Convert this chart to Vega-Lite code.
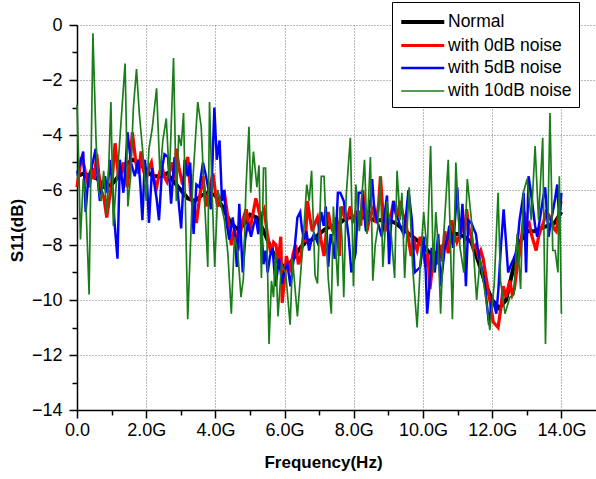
{
"$schema": "https://vega.github.io/schema/vega-lite/v6.json",
"width": 519, "height": 385,
"autosize": "none",
"padding": {"left": 77, "top": 25, "right": 0, "bottom": 69},
"config": {"view": {"stroke": null}, "font": "Liberation Sans",
 "legend": {"orient": "none", "legendX": 315, "legendY": -23, "symbolType": "M-1,0H3", "symbolSize": 462, "strokeColor": "black", "fillColor": "white", "padding": 7, "labelFontSize": 17.5, "labelColor": "black", "rowPadding": 2, "labelOffset": 23, "labelLimit": 300, "cornerRadius": 0}},
"data": {"values": [
{"s":"Normal","f":0,"v":-5.5},{"s":"Normal","f":0.2,"v":-5.4},{"s":"Normal","f":0.4,"v":-5.5},{"s":"Normal","f":0.6,"v":-5.6},{"s":"Normal","f":0.8,"v":-5.9},{"s":"Normal","f":1.0,"v":-5.8},{"s":"Normal","f":1.2,"v":-5.5},{"s":"Normal","f":1.4,"v":-5.1},{"s":"Normal","f":1.6,"v":-4.9},{"s":"Normal","f":1.8,"v":-5.0},{"s":"Normal","f":2.0,"v":-5.3},{"s":"Normal","f":2.2,"v":-5.5},{"s":"Normal","f":2.4,"v":-5.5},{"s":"Normal","f":2.6,"v":-5.4},{"s":"Normal","f":2.8,"v":-5.7},{"s":"Normal","f":3.0,"v":-6.0},{"s":"Normal","f":3.2,"v":-6.3},{"s":"Normal","f":3.4,"v":-6.4},{"s":"Normal","f":3.6,"v":-6.2},{"s":"Normal","f":3.8,"v":-6.1},{"s":"Normal","f":4.0,"v":-6.2},{"s":"Normal","f":4.2,"v":-6.6},{"s":"Normal","f":4.4,"v":-7.1},{"s":"Normal","f":4.6,"v":-7.4},{"s":"Normal","f":4.8,"v":-7.3},{"s":"Normal","f":5.0,"v":-6.9},{"s":"Normal","f":5.2,"v":-7.0},{"s":"Normal","f":5.4,"v":-7.5},{"s":"Normal","f":5.6,"v":-8.1},{"s":"Normal","f":5.8,"v":-8.6},{"s":"Normal","f":6.0,"v":-8.8},{"s":"Normal","f":6.2,"v":-8.6},{"s":"Normal","f":6.4,"v":-8.2},{"s":"Normal","f":6.6,"v":-7.9},{"s":"Normal","f":6.8,"v":-7.8},{"s":"Normal","f":7.0,"v":-7.6},{"s":"Normal","f":7.2,"v":-7.4},{"s":"Normal","f":7.4,"v":-7.3},{"s":"Normal","f":7.6,"v":-7.2},{"s":"Normal","f":7.8,"v":-7.0},{"s":"Normal","f":8.0,"v":-7.0},{"s":"Normal","f":8.2,"v":-7.0},{"s":"Normal","f":8.4,"v":-7.0},{"s":"Normal","f":8.6,"v":-7.1},{"s":"Normal","f":8.8,"v":-7.1},{"s":"Normal","f":9.0,"v":-7.1},{"s":"Normal","f":9.2,"v":-7.2},{"s":"Normal","f":9.4,"v":-7.4},{"s":"Normal","f":9.6,"v":-7.6},{"s":"Normal","f":9.8,"v":-7.8},{"s":"Normal","f":10.0,"v":-8.0},{"s":"Normal","f":10.2,"v":-8.3},{"s":"Normal","f":10.4,"v":-8.3},{"s":"Normal","f":10.6,"v":-8.0},{"s":"Normal","f":10.8,"v":-7.6},{"s":"Normal","f":11.0,"v":-7.6},{"s":"Normal","f":11.2,"v":-7.7},{"s":"Normal","f":11.4,"v":-7.9},{"s":"Normal","f":11.6,"v":-8.6},{"s":"Normal","f":11.8,"v":-9.4},{"s":"Normal","f":12.0,"v":-10.0},{"s":"Normal","f":12.2,"v":-10.3},{"s":"Normal","f":12.4,"v":-10.0},{"s":"Normal","f":12.6,"v":-8.9},{"s":"Normal","f":12.8,"v":-7.9},{"s":"Normal","f":13.0,"v":-7.5},{"s":"Normal","f":13.2,"v":-7.5},{"s":"Normal","f":13.4,"v":-7.4},{"s":"Normal","f":13.6,"v":-7.3},{"s":"Normal","f":13.8,"v":-7.2},{"s":"Normal","f":14.0,"v":-6.8},
{"s":"with 0dB noise","f":0,"v":-5.9},{"s":"with 0dB noise","f":0.07,"v":-5.3},{"s":"with 0dB noise","f":0.13,"v":-4.8},{"s":"with 0dB noise","f":0.2,"v":-5.1},{"s":"with 0dB noise","f":0.25,"v":-5.4},{"s":"with 0dB noise","f":0.35,"v":-5.9},{"s":"with 0dB noise","f":0.45,"v":-5.2},{"s":"with 0dB noise","f":0.5,"v":-5.6},{"s":"with 0dB noise","f":0.57,"v":-4.7},{"s":"with 0dB noise","f":0.63,"v":-5.4},{"s":"with 0dB noise","f":0.7,"v":-6.0},{"s":"with 0dB noise","f":0.78,"v":-6.3},{"s":"with 0dB noise","f":0.86,"v":-7.0},{"s":"with 0dB noise","f":0.95,"v":-6.2},{"s":"with 0dB noise","f":1.02,"v":-5.6},{"s":"with 0dB noise","f":1.1,"v":-4.3},{"s":"with 0dB noise","f":1.2,"v":-5.5},{"s":"with 0dB noise","f":1.27,"v":-5.4},{"s":"with 0dB noise","f":1.35,"v":-5.0},{"s":"with 0dB noise","f":1.45,"v":-5.9},{"s":"with 0dB noise","f":1.52,"v":-5.2},{"s":"with 0dB noise","f":1.6,"v":-3.9},{"s":"with 0dB noise","f":1.7,"v":-5.0},{"s":"with 0dB noise","f":1.78,"v":-5.4},{"s":"with 0dB noise","f":1.85,"v":-4.6},{"s":"with 0dB noise","f":1.92,"v":-5.3},{"s":"with 0dB noise","f":2.0,"v":-5.6},{"s":"with 0dB noise","f":2.08,"v":-5.2},{"s":"with 0dB noise","f":2.15,"v":-5.0},{"s":"with 0dB noise","f":2.22,"v":-5.6},{"s":"with 0dB noise","f":2.3,"v":-5.9},{"s":"with 0dB noise","f":2.38,"v":-5.4},{"s":"with 0dB noise","f":2.45,"v":-5.1},{"s":"with 0dB noise","f":2.52,"v":-5.5},{"s":"with 0dB noise","f":2.6,"v":-5.7},{"s":"with 0dB noise","f":2.68,"v":-5.3},{"s":"with 0dB noise","f":2.75,"v":-5.0},{"s":"with 0dB noise","f":2.82,"v":-5.6},{"s":"with 0dB noise","f":2.87,"v":-4.5},{"s":"with 0dB noise","f":2.95,"v":-5.2},{"s":"with 0dB noise","f":3.05,"v":-5.8},{"s":"with 0dB noise","f":3.12,"v":-5.4},{"s":"with 0dB noise","f":3.2,"v":-4.8},{"s":"with 0dB noise","f":3.3,"v":-6.3},{"s":"with 0dB noise","f":3.38,"v":-6.6},{"s":"with 0dB noise","f":3.45,"v":-7.2},{"s":"with 0dB noise","f":3.55,"v":-6.2},{"s":"with 0dB noise","f":3.64,"v":-5.5},{"s":"with 0dB noise","f":3.73,"v":-6.6},{"s":"with 0dB noise","f":3.82,"v":-6.0},{"s":"with 0dB noise","f":3.93,"v":-5.4},{"s":"with 0dB noise","f":4.0,"v":-6.1},{"s":"with 0dB noise","f":4.07,"v":-6.6},{"s":"with 0dB noise","f":4.15,"v":-6.3},{"s":"with 0dB noise","f":4.26,"v":-6.1},{"s":"with 0dB noise","f":4.36,"v":-7.0},{"s":"with 0dB noise","f":4.46,"v":-8.0},{"s":"with 0dB noise","f":4.55,"v":-7.4},{"s":"with 0dB noise","f":4.65,"v":-8.2},{"s":"with 0dB noise","f":4.72,"v":-7.6},{"s":"with 0dB noise","f":4.79,"v":-7.1},{"s":"with 0dB noise","f":4.89,"v":-6.7},{"s":"with 0dB noise","f":4.99,"v":-7.5},{"s":"with 0dB noise","f":5.08,"v":-6.9},{"s":"with 0dB noise","f":5.17,"v":-6.3},{"s":"with 0dB noise","f":5.3,"v":-7.0},{"s":"with 0dB noise","f":5.41,"v":-6.7},{"s":"with 0dB noise","f":5.5,"v":-7.6},{"s":"with 0dB noise","f":5.6,"v":-8.3},{"s":"with 0dB noise","f":5.68,"v":-7.9},{"s":"with 0dB noise","f":5.75,"v":-8.0},{"s":"with 0dB noise","f":5.82,"v":-8.6},{"s":"with 0dB noise","f":5.89,"v":-7.7},{"s":"with 0dB noise","f":5.93,"v":-10.1},{"s":"with 0dB noise","f":6.0,"v":-9.2},{"s":"with 0dB noise","f":6.05,"v":-8.4},{"s":"with 0dB noise","f":6.12,"v":-8.8},{"s":"with 0dB noise","f":6.17,"v":-8.9},{"s":"with 0dB noise","f":6.25,"v":-8.3},{"s":"with 0dB noise","f":6.32,"v":-8.0},{"s":"with 0dB noise","f":6.4,"v":-8.7},{"s":"with 0dB noise","f":6.46,"v":-8.5},{"s":"with 0dB noise","f":6.55,"v":-7.6},{"s":"with 0dB noise","f":6.6,"v":-7.9},{"s":"with 0dB noise","f":6.66,"v":-6.4},{"s":"with 0dB noise","f":6.73,"v":-7.0},{"s":"with 0dB noise","f":6.8,"v":-7.5},{"s":"with 0dB noise","f":6.88,"v":-7.2},{"s":"with 0dB noise","f":6.95,"v":-7.0},{"s":"with 0dB noise","f":7.05,"v":-7.8},{"s":"with 0dB noise","f":7.14,"v":-8.4},{"s":"with 0dB noise","f":7.2,"v":-7.6},{"s":"with 0dB noise","f":7.26,"v":-6.8},{"s":"with 0dB noise","f":7.33,"v":-7.3},{"s":"with 0dB noise","f":7.4,"v":-7.5},{"s":"with 0dB noise","f":7.5,"v":-7.0},{"s":"with 0dB noise","f":7.58,"v":-8.4},{"s":"with 0dB noise","f":7.62,"v":-6.8},{"s":"with 0dB noise","f":7.66,"v":-6.6},{"s":"with 0dB noise","f":7.73,"v":-7.0},{"s":"with 0dB noise","f":7.8,"v":-7.1},{"s":"with 0dB noise","f":7.9,"v":-6.6},{"s":"with 0dB noise","f":7.98,"v":-7.2},{"s":"with 0dB noise","f":8.06,"v":-6.8},{"s":"with 0dB noise","f":8.14,"v":-6.8},{"s":"with 0dB noise","f":8.2,"v":-7.3},{"s":"with 0dB noise","f":8.26,"v":-6.0},{"s":"with 0dB noise","f":8.32,"v":-6.9},{"s":"with 0dB noise","f":8.38,"v":-7.5},{"s":"with 0dB noise","f":8.46,"v":-7.0},{"s":"with 0dB noise","f":8.55,"v":-6.7},{"s":"with 0dB noise","f":8.64,"v":-7.2},{"s":"with 0dB noise","f":8.72,"v":-6.5},{"s":"with 0dB noise","f":8.77,"v":-5.5},{"s":"with 0dB noise","f":8.84,"v":-6.8},{"s":"with 0dB noise","f":8.91,"v":-7.5},{"s":"with 0dB noise","f":9.0,"v":-7.0},{"s":"with 0dB noise","f":9.08,"v":-6.9},{"s":"with 0dB noise","f":9.15,"v":-6.4},{"s":"with 0dB noise","f":9.25,"v":-7.0},{"s":"with 0dB noise","f":9.34,"v":-6.4},{"s":"with 0dB noise","f":9.42,"v":-6.9},{"s":"with 0dB noise","f":9.49,"v":-7.1},{"s":"with 0dB noise","f":9.58,"v":-7.8},{"s":"with 0dB noise","f":9.66,"v":-8.4},{"s":"with 0dB noise","f":9.75,"v":-7.9},{"s":"with 0dB noise","f":9.83,"v":-8.2},{"s":"with 0dB noise","f":9.92,"v":-7.7},{"s":"with 0dB noise","f":10.0,"v":-8.2},{"s":"with 0dB noise","f":10.08,"v":-8.8},{"s":"with 0dB noise","f":10.14,"v":-8.3},{"s":"with 0dB noise","f":10.2,"v":-9.6},{"s":"with 0dB noise","f":10.27,"v":-8.8},{"s":"with 0dB noise","f":10.34,"v":-8.3},{"s":"with 0dB noise","f":10.42,"v":-8.7},{"s":"with 0dB noise","f":10.5,"v":-8.0},{"s":"with 0dB noise","f":10.56,"v":-8.6},{"s":"with 0dB noise","f":10.63,"v":-7.5},{"s":"with 0dB noise","f":10.68,"v":-7.9},{"s":"with 0dB noise","f":10.73,"v":-8.3},{"s":"with 0dB noise","f":10.78,"v":-7.7},{"s":"with 0dB noise","f":10.83,"v":-7.1},{"s":"with 0dB noise","f":10.9,"v":-7.6},{"s":"with 0dB noise","f":10.98,"v":-7.9},{"s":"with 0dB noise","f":11.07,"v":-7.6},{"s":"with 0dB noise","f":11.15,"v":-7.2},{"s":"with 0dB noise","f":11.2,"v":-7.6},{"s":"with 0dB noise","f":11.26,"v":-6.7},{"s":"with 0dB noise","f":11.33,"v":-7.4},{"s":"with 0dB noise","f":11.4,"v":-7.7},{"s":"with 0dB noise","f":11.45,"v":-8.1},{"s":"with 0dB noise","f":11.52,"v":-8.0},{"s":"with 0dB noise","f":11.6,"v":-8.4},{"s":"with 0dB noise","f":11.67,"v":-8.2},{"s":"with 0dB noise","f":11.74,"v":-8.5},{"s":"with 0dB noise","f":11.8,"v":-9.0},{"s":"with 0dB noise","f":11.84,"v":-9.3},{"s":"with 0dB noise","f":11.9,"v":-9.8},{"s":"with 0dB noise","f":11.96,"v":-10.2},{"s":"with 0dB noise","f":12.03,"v":-10.8},{"s":"with 0dB noise","f":12.1,"v":-10.9},{"s":"with 0dB noise","f":12.17,"v":-11.0},{"s":"with 0dB noise","f":12.25,"v":-10.3},{"s":"with 0dB noise","f":12.32,"v":-9.5},{"s":"with 0dB noise","f":12.4,"v":-9.9},{"s":"with 0dB noise","f":12.45,"v":-9.6},{"s":"with 0dB noise","f":12.51,"v":-9.3},{"s":"with 0dB noise","f":12.58,"v":-9.8},{"s":"with 0dB noise","f":12.64,"v":-9.6},{"s":"with 0dB noise","f":12.72,"v":-8.8},{"s":"with 0dB noise","f":12.79,"v":-8.3},{"s":"with 0dB noise","f":12.86,"v":-7.6},{"s":"with 0dB noise","f":12.93,"v":-6.8},{"s":"with 0dB noise","f":13.0,"v":-7.3},{"s":"with 0dB noise","f":13.07,"v":-7.2},{"s":"with 0dB noise","f":13.13,"v":-7.6},{"s":"with 0dB noise","f":13.2,"v":-7.9},{"s":"with 0dB noise","f":13.27,"v":-8.2},{"s":"with 0dB noise","f":13.34,"v":-7.7},{"s":"with 0dB noise","f":13.41,"v":-7.4},{"s":"with 0dB noise","f":13.48,"v":-7.2},{"s":"with 0dB noise","f":13.56,"v":-6.8},{"s":"with 0dB noise","f":13.63,"v":-6.9},{"s":"with 0dB noise","f":13.7,"v":-7.1},{"s":"with 0dB noise","f":13.78,"v":-7.4},{"s":"with 0dB noise","f":13.85,"v":-7.5},{"s":"with 0dB noise","f":13.92,"v":-6.9},{"s":"with 0dB noise","f":13.99,"v":-6.4},
{"s":"with 5dB noise","f":0,"v":-5.4},{"s":"with 5dB noise","f":0.1,"v":-5.0},{"s":"with 5dB noise","f":0.18,"v":-4.6},{"s":"with 5dB noise","f":0.25,"v":-6.8},{"s":"with 5dB noise","f":0.33,"v":-5.5},{"s":"with 5dB noise","f":0.42,"v":-5.2},{"s":"with 5dB noise","f":0.54,"v":-4.5},{"s":"with 5dB noise","f":0.6,"v":-5.6},{"s":"with 5dB noise","f":0.66,"v":-6.4},{"s":"with 5dB noise","f":0.74,"v":-5.8},{"s":"with 5dB noise","f":0.81,"v":-5.5},{"s":"with 5dB noise","f":0.88,"v":-6.1},{"s":"with 5dB noise","f":0.95,"v":-4.9},{"s":"with 5dB noise","f":1.02,"v":-5.8},{"s":"with 5dB noise","f":1.08,"v":-7.1},{"s":"with 5dB noise","f":1.17,"v":-8.5},{"s":"with 5dB noise","f":1.24,"v":-4.9},{"s":"with 5dB noise","f":1.34,"v":-6.1},{"s":"with 5dB noise","f":1.4,"v":-5.2},{"s":"with 5dB noise","f":1.46,"v":-3.9},{"s":"with 5dB noise","f":1.56,"v":-5.0},{"s":"with 5dB noise","f":1.67,"v":-5.5},{"s":"with 5dB noise","f":1.77,"v":-4.9},{"s":"with 5dB noise","f":1.83,"v":-5.8},{"s":"with 5dB noise","f":1.89,"v":-7.1},{"s":"with 5dB noise","f":1.96,"v":-4.9},{"s":"with 5dB noise","f":2.02,"v":-5.6},{"s":"with 5dB noise","f":2.08,"v":-7.2},{"s":"with 5dB noise","f":2.17,"v":-5.2},{"s":"with 5dB noise","f":2.25,"v":-5.9},{"s":"with 5dB noise","f":2.3,"v":-6.3},{"s":"with 5dB noise","f":2.37,"v":-7.1},{"s":"with 5dB noise","f":2.46,"v":-5.2},{"s":"with 5dB noise","f":2.53,"v":-4.7},{"s":"with 5dB noise","f":2.63,"v":-4.8},{"s":"with 5dB noise","f":2.72,"v":-6.5},{"s":"with 5dB noise","f":2.82,"v":-4.8},{"s":"with 5dB noise","f":2.92,"v":-6.2},{"s":"with 5dB noise","f":3.01,"v":-7.4},{"s":"with 5dB noise","f":3.11,"v":-4.9},{"s":"with 5dB noise","f":3.2,"v":-5.5},{"s":"with 5dB noise","f":3.27,"v":-5.0},{"s":"with 5dB noise","f":3.37,"v":-7.6},{"s":"with 5dB noise","f":3.45,"v":-5.8},{"s":"with 5dB noise","f":3.54,"v":-5.9},{"s":"with 5dB noise","f":3.64,"v":-5.0},{"s":"with 5dB noise","f":3.73,"v":-5.5},{"s":"with 5dB noise","f":3.8,"v":-6.0},{"s":"with 5dB noise","f":3.87,"v":-6.7},{"s":"with 5dB noise","f":3.97,"v":-3.0},{"s":"with 5dB noise","f":4.04,"v":-4.9},{"s":"with 5dB noise","f":4.12,"v":-4.2},{"s":"with 5dB noise","f":4.19,"v":-6.4},{"s":"with 5dB noise","f":4.25,"v":-6.0},{"s":"with 5dB noise","f":4.31,"v":-7.1},{"s":"with 5dB noise","f":4.4,"v":-7.8},{"s":"with 5dB noise","f":4.5,"v":-7.0},{"s":"with 5dB noise","f":4.56,"v":-7.6},{"s":"with 5dB noise","f":4.62,"v":-8.8},{"s":"with 5dB noise","f":4.69,"v":-6.5},{"s":"with 5dB noise","f":4.79,"v":-9.0},{"s":"with 5dB noise","f":4.86,"v":-7.8},{"s":"with 5dB noise","f":4.94,"v":-7.2},{"s":"with 5dB noise","f":5.03,"v":-7.7},{"s":"with 5dB noise","f":5.1,"v":-7.3},{"s":"with 5dB noise","f":5.17,"v":-7.0},{"s":"with 5dB noise","f":5.24,"v":-7.6},{"s":"with 5dB noise","f":5.31,"v":-6.9},{"s":"with 5dB noise","f":5.39,"v":-8.7},{"s":"with 5dB noise","f":5.45,"v":-8.2},{"s":"with 5dB noise","f":5.51,"v":-9.0},{"s":"with 5dB noise","f":5.58,"v":-8.4},{"s":"with 5dB noise","f":5.65,"v":-8.1},{"s":"with 5dB noise","f":5.74,"v":-9.5},{"s":"with 5dB noise","f":5.84,"v":-8.5},{"s":"with 5dB noise","f":5.93,"v":-9.4},{"s":"with 5dB noise","f":6.0,"v":-8.9},{"s":"with 5dB noise","f":6.08,"v":-8.7},{"s":"with 5dB noise","f":6.17,"v":-9.5},{"s":"with 5dB noise","f":6.27,"v":-8.4},{"s":"with 5dB noise","f":6.37,"v":-7.0},{"s":"with 5dB noise","f":6.45,"v":-6.8},{"s":"with 5dB noise","f":6.5,"v":-7.4},{"s":"with 5dB noise","f":6.56,"v":-7.8},{"s":"with 5dB noise","f":6.63,"v":-7.5},{"s":"with 5dB noise","f":6.71,"v":-8.2},{"s":"with 5dB noise","f":6.78,"v":-7.8},{"s":"with 5dB noise","f":6.85,"v":-7.6},{"s":"with 5dB noise","f":6.95,"v":-7.9},{"s":"with 5dB noise","f":7.06,"v":-6.8},{"s":"with 5dB noise","f":7.13,"v":-7.3},{"s":"with 5dB noise","f":7.19,"v":-6.6},{"s":"with 5dB noise","f":7.26,"v":-8.8},{"s":"with 5dB noise","f":7.33,"v":-7.6},{"s":"with 5dB noise","f":7.4,"v":-8.0},{"s":"with 5dB noise","f":7.45,"v":-8.5},{"s":"with 5dB noise","f":7.54,"v":-6.1},{"s":"with 5dB noise","f":7.61,"v":-6.1},{"s":"with 5dB noise","f":7.71,"v":-6.4},{"s":"with 5dB noise","f":7.78,"v":-7.0},{"s":"with 5dB noise","f":7.85,"v":-7.7},{"s":"with 5dB noise","f":7.93,"v":-9.0},{"s":"with 5dB noise","f":8.05,"v":-8.3},{"s":"with 5dB noise","f":8.14,"v":-6.1},{"s":"with 5dB noise","f":8.24,"v":-6.1},{"s":"with 5dB noise","f":8.3,"v":-6.8},{"s":"with 5dB noise","f":8.35,"v":-7.5},{"s":"with 5dB noise","f":8.42,"v":-6.9},{"s":"with 5dB noise","f":8.48,"v":-6.4},{"s":"with 5dB noise","f":8.53,"v":-5.6},{"s":"with 5dB noise","f":8.58,"v":-6.5},{"s":"with 5dB noise","f":8.64,"v":-7.0},{"s":"with 5dB noise","f":8.72,"v":-7.3},{"s":"with 5dB noise","f":8.81,"v":-7.7},{"s":"with 5dB noise","f":8.88,"v":-7.0},{"s":"with 5dB noise","f":8.96,"v":-6.2},{"s":"with 5dB noise","f":9.02,"v":-8.7},{"s":"with 5dB noise","f":9.08,"v":-7.2},{"s":"with 5dB noise","f":9.15,"v":-6.4},{"s":"with 5dB noise","f":9.22,"v":-6.9},{"s":"with 5dB noise","f":9.29,"v":-7.1},{"s":"with 5dB noise","f":9.36,"v":-7.4},{"s":"with 5dB noise","f":9.44,"v":-7.6},{"s":"with 5dB noise","f":9.51,"v":-6.9},{"s":"with 5dB noise","f":9.58,"v":-6.0},{"s":"with 5dB noise","f":9.68,"v":-7.1},{"s":"with 5dB noise","f":9.76,"v":-9.0},{"s":"with 5dB noise","f":9.84,"v":-8.9},{"s":"with 5dB noise","f":9.92,"v":-8.8},{"s":"with 5dB noise","f":10.02,"v":-7.7},{"s":"with 5dB noise","f":10.08,"v":-9.0},{"s":"with 5dB noise","f":10.12,"v":-10.5},{"s":"with 5dB noise","f":10.18,"v":-9.6},{"s":"with 5dB noise","f":10.25,"v":-8.1},{"s":"with 5dB noise","f":10.34,"v":-9.0},{"s":"with 5dB noise","f":10.44,"v":-7.6},{"s":"with 5dB noise","f":10.51,"v":-9.5},{"s":"with 5dB noise","f":10.57,"v":-8.8},{"s":"with 5dB noise","f":10.63,"v":-8.1},{"s":"with 5dB noise","f":10.7,"v":-7.8},{"s":"with 5dB noise","f":10.76,"v":-7.3},{"s":"with 5dB noise","f":10.82,"v":-7.7},{"s":"with 5dB noise","f":10.87,"v":-8.1},{"s":"with 5dB noise","f":10.93,"v":-7.0},{"s":"with 5dB noise","f":10.99,"v":-5.9},{"s":"with 5dB noise","f":11.07,"v":-7.8},{"s":"with 5dB noise","f":11.14,"v":-6.5},{"s":"with 5dB noise","f":11.19,"v":-7.8},{"s":"with 5dB noise","f":11.24,"v":-9.5},{"s":"with 5dB noise","f":11.31,"v":-7.1},{"s":"with 5dB noise","f":11.4,"v":-7.2},{"s":"with 5dB noise","f":11.46,"v":-7.4},{"s":"with 5dB noise","f":11.53,"v":-7.6},{"s":"with 5dB noise","f":11.58,"v":-8.1},{"s":"with 5dB noise","f":11.64,"v":-8.5},{"s":"with 5dB noise","f":11.72,"v":-9.0},{"s":"with 5dB noise","f":11.79,"v":-9.5},{"s":"with 5dB noise","f":11.85,"v":-10.2},{"s":"with 5dB noise","f":11.91,"v":-10.9},{"s":"with 5dB noise","f":11.96,"v":-10.3},{"s":"with 5dB noise","f":12.0,"v":-9.9},{"s":"with 5dB noise","f":12.06,"v":-10.2},{"s":"with 5dB noise","f":12.12,"v":-10.5},{"s":"with 5dB noise","f":12.18,"v":-9.6},{"s":"with 5dB noise","f":12.24,"v":-8.3},{"s":"with 5dB noise","f":12.33,"v":-6.7},{"s":"with 5dB noise","f":12.4,"v":-7.9},{"s":"with 5dB noise","f":12.46,"v":-9.0},{"s":"with 5dB noise","f":12.55,"v":-8.7},{"s":"with 5dB noise","f":12.62,"v":-8.5},{"s":"with 5dB noise","f":12.68,"v":-8.3},{"s":"with 5dB noise","f":12.74,"v":-7.8},{"s":"with 5dB noise","f":12.79,"v":-7.1},{"s":"with 5dB noise","f":12.85,"v":-6.6},{"s":"with 5dB noise","f":12.91,"v":-6.1},{"s":"with 5dB noise","f":12.98,"v":-9.0},{"s":"with 5dB noise","f":13.05,"v":-5.5},{"s":"with 5dB noise","f":13.11,"v":-6.0},{"s":"with 5dB noise","f":13.17,"v":-6.6},{"s":"with 5dB noise","f":13.24,"v":-7.3},{"s":"with 5dB noise","f":13.3,"v":-7.7},{"s":"with 5dB noise","f":13.36,"v":-7.2},{"s":"with 5dB noise","f":13.41,"v":-6.8},{"s":"with 5dB noise","f":13.47,"v":-6.3},{"s":"with 5dB noise","f":13.53,"v":-5.9},{"s":"with 5dB noise","f":13.58,"v":-6.8},{"s":"with 5dB noise","f":13.63,"v":-7.7},{"s":"with 5dB noise","f":13.69,"v":-7.2},{"s":"with 5dB noise","f":13.75,"v":-6.8},{"s":"with 5dB noise","f":13.82,"v":-6.3},{"s":"with 5dB noise","f":13.88,"v":-5.8},{"s":"with 5dB noise","f":13.94,"v":-7.2},{"s":"with 5dB noise","f":14.0,"v":-6.1},
{"s":"with 10dB noise","f":0,"v":-2.9},{"s":"with 10dB noise","f":0.05,"v":-5.0},{"s":"with 10dB noise","f":0.1,"v":-7.8},{"s":"with 10dB noise","f":0.18,"v":-5.6},{"s":"with 10dB noise","f":0.25,"v":-6.2},{"s":"with 10dB noise","f":0.35,"v":-9.8},{"s":"with 10dB noise","f":0.46,"v":-0.3},{"s":"with 10dB noise","f":0.55,"v":-4.2},{"s":"with 10dB noise","f":0.62,"v":-6.0},{"s":"with 10dB noise","f":0.7,"v":-6.4},{"s":"with 10dB noise","f":0.77,"v":-5.3},{"s":"with 10dB noise","f":0.87,"v":-6.9},{"s":"with 10dB noise","f":0.98,"v":-2.8},{"s":"with 10dB noise","f":1.05,"v":-7.3},{"s":"with 10dB noise","f":1.12,"v":-6.0},{"s":"with 10dB noise","f":1.18,"v":-5.2},{"s":"with 10dB noise","f":1.28,"v":-3.4},{"s":"with 10dB noise","f":1.39,"v":-1.4},{"s":"with 10dB noise","f":1.47,"v":-6.6},{"s":"with 10dB noise","f":1.55,"v":-5.5},{"s":"with 10dB noise","f":1.63,"v":-3.0},{"s":"with 10dB noise","f":1.72,"v":-1.6},{"s":"with 10dB noise","f":1.8,"v":-3.2},{"s":"with 10dB noise","f":1.9,"v":-4.6},{"s":"with 10dB noise","f":2.0,"v":-6.4},{"s":"with 10dB noise","f":2.08,"v":-4.5},{"s":"with 10dB noise","f":2.17,"v":-3.8},{"s":"with 10dB noise","f":2.3,"v":-2.3},{"s":"with 10dB noise","f":2.4,"v":-5.5},{"s":"with 10dB noise","f":2.48,"v":-4.2},{"s":"with 10dB noise","f":2.58,"v":-3.4},{"s":"with 10dB noise","f":2.67,"v":-5.6},{"s":"with 10dB noise","f":2.79,"v":-1.2},{"s":"with 10dB noise","f":2.87,"v":-6.4},{"s":"with 10dB noise","f":2.94,"v":-4.0},{"s":"with 10dB noise","f":3.01,"v":-4.4},{"s":"with 10dB noise","f":3.08,"v":-3.2},{"s":"with 10dB noise","f":3.2,"v":-10.7},{"s":"with 10dB noise","f":3.35,"v":-5.6},{"s":"with 10dB noise","f":3.49,"v":-2.8},{"s":"with 10dB noise","f":3.59,"v":-3.7},{"s":"with 10dB noise","f":3.68,"v":-6.2},{"s":"with 10dB noise","f":3.78,"v":-8.8},{"s":"with 10dB noise","f":3.83,"v":-2.8},{"s":"with 10dB noise","f":3.9,"v":-5.9},{"s":"with 10dB noise","f":3.98,"v":-8.8},{"s":"with 10dB noise","f":4.07,"v":-6.0},{"s":"with 10dB noise","f":4.16,"v":-6.5},{"s":"with 10dB noise","f":4.26,"v":-7.1},{"s":"with 10dB noise","f":4.36,"v":-8.3},{"s":"with 10dB noise","f":4.46,"v":-10.5},{"s":"with 10dB noise","f":4.55,"v":-7.7},{"s":"with 10dB noise","f":4.65,"v":-8.3},{"s":"with 10dB noise","f":4.74,"v":-9.9},{"s":"with 10dB noise","f":4.81,"v":-9.2},{"s":"with 10dB noise","f":4.88,"v":-6.0},{"s":"with 10dB noise","f":4.97,"v":-3.7},{"s":"with 10dB noise","f":5.02,"v":-6.1},{"s":"with 10dB noise","f":5.1,"v":-4.6},{"s":"with 10dB noise","f":5.2,"v":-5.9},{"s":"with 10dB noise","f":5.26,"v":-5.1},{"s":"with 10dB noise","f":5.33,"v":-9.2},{"s":"with 10dB noise","f":5.39,"v":-5.2},{"s":"with 10dB noise","f":5.45,"v":-5.2},{"s":"with 10dB noise","f":5.55,"v":-11.6},{"s":"with 10dB noise","f":5.62,"v":-9.3},{"s":"with 10dB noise","f":5.68,"v":-9.9},{"s":"with 10dB noise","f":5.74,"v":-8.3},{"s":"with 10dB noise","f":5.81,"v":-10.6},{"s":"with 10dB noise","f":5.91,"v":-8.7},{"s":"with 10dB noise","f":6.03,"v":-9.0},{"s":"with 10dB noise","f":6.16,"v":-10.9},{"s":"with 10dB noise","f":6.23,"v":-8.5},{"s":"with 10dB noise","f":6.37,"v":-10.6},{"s":"with 10dB noise","f":6.52,"v":-8.1},{"s":"with 10dB noise","f":6.64,"v":-5.8},{"s":"with 10dB noise","f":6.71,"v":-6.4},{"s":"with 10dB noise","f":6.78,"v":-5.3},{"s":"with 10dB noise","f":6.88,"v":-9.1},{"s":"with 10dB noise","f":6.95,"v":-9.4},{"s":"with 10dB noise","f":7.06,"v":-5.5},{"s":"with 10dB noise","f":7.14,"v":-5.5},{"s":"with 10dB noise","f":7.26,"v":-9.2},{"s":"with 10dB noise","f":7.35,"v":-10.5},{"s":"with 10dB noise","f":7.41,"v":-6.6},{"s":"with 10dB noise","f":7.54,"v":-9.5},{"s":"with 10dB noise","f":7.6,"v":-6.6},{"s":"with 10dB noise","f":7.66,"v":-7.8},{"s":"with 10dB noise","f":7.71,"v":-9.9},{"s":"with 10dB noise","f":7.78,"v":-6.2},{"s":"with 10dB noise","f":7.9,"v":-4.1},{"s":"with 10dB noise","f":7.99,"v":-9.5},{"s":"with 10dB noise","f":8.06,"v":-5.8},{"s":"with 10dB noise","f":8.16,"v":-7.5},{"s":"with 10dB noise","f":8.31,"v":-4.9},{"s":"with 10dB noise","f":8.38,"v":-7.6},{"s":"with 10dB noise","f":8.48,"v":-4.8},{"s":"with 10dB noise","f":8.55,"v":-9.3},{"s":"with 10dB noise","f":8.62,"v":-8.0},{"s":"with 10dB noise","f":8.7,"v":-7.3},{"s":"with 10dB noise","f":8.77,"v":-5.5},{"s":"with 10dB noise","f":8.84,"v":-8.8},{"s":"with 10dB noise","f":8.96,"v":-6.4},{"s":"with 10dB noise","f":9.08,"v":-7.6},{"s":"with 10dB noise","f":9.18,"v":-9.2},{"s":"with 10dB noise","f":9.25,"v":-5.3},{"s":"with 10dB noise","f":9.34,"v":-7.1},{"s":"with 10dB noise","f":9.39,"v":-6.1},{"s":"with 10dB noise","f":9.47,"v":-9.2},{"s":"with 10dB noise","f":9.6,"v":-5.9},{"s":"with 10dB noise","f":9.7,"v":-8.8},{"s":"with 10dB noise","f":9.83,"v":-11.0},{"s":"with 10dB noise","f":9.93,"v":-8.5},{"s":"with 10dB noise","f":10.02,"v":-6.8},{"s":"with 10dB noise","f":10.12,"v":-8.3},{"s":"with 10dB noise","f":10.22,"v":-4.4},{"s":"with 10dB noise","f":10.3,"v":-9.0},{"s":"with 10dB noise","f":10.37,"v":-6.8},{"s":"with 10dB noise","f":10.44,"v":-8.0},{"s":"with 10dB noise","f":10.51,"v":-10.5},{"s":"with 10dB noise","f":10.6,"v":-7.6},{"s":"with 10dB noise","f":10.73,"v":-4.9},{"s":"with 10dB noise","f":10.85,"v":-10.7},{"s":"with 10dB noise","f":10.95,"v":-5.0},{"s":"with 10dB noise","f":11.07,"v":-8.1},{"s":"with 10dB noise","f":11.18,"v":-9.0},{"s":"with 10dB noise","f":11.28,"v":-5.6},{"s":"with 10dB noise","f":11.4,"v":-7.1},{"s":"with 10dB noise","f":11.55,"v":-10.0},{"s":"with 10dB noise","f":11.65,"v":-8.5},{"s":"with 10dB noise","f":11.74,"v":-9.3},{"s":"with 10dB noise","f":11.84,"v":-10.1},{"s":"with 10dB noise","f":11.93,"v":-11.1},{"s":"with 10dB noise","f":12.06,"v":-9.4},{"s":"with 10dB noise","f":12.17,"v":-6.1},{"s":"with 10dB noise","f":12.24,"v":-9.3},{"s":"with 10dB noise","f":12.37,"v":-10.5},{"s":"with 10dB noise","f":12.51,"v":-9.9},{"s":"with 10dB noise","f":12.63,"v":-9.8},{"s":"with 10dB noise","f":12.72,"v":-7.6},{"s":"with 10dB noise","f":12.82,"v":-9.6},{"s":"with 10dB noise","f":12.9,"v":-6.1},{"s":"with 10dB noise","f":13.01,"v":-5.6},{"s":"with 10dB noise","f":13.13,"v":-7.1},{"s":"with 10dB noise","f":13.24,"v":-4.4},{"s":"with 10dB noise","f":13.34,"v":-7.1},{"s":"with 10dB noise","f":13.46,"v":-4.1},{"s":"with 10dB noise","f":13.54,"v":-11.6},{"s":"with 10dB noise","f":13.67,"v":-3.2},{"s":"with 10dB noise","f":13.75,"v":-8.2},{"s":"with 10dB noise","f":13.82,"v":-8.2},{"s":"with 10dB noise","f":13.9,"v":-9.0},{"s":"with 10dB noise","f":13.94,"v":-5.5},{"s":"with 10dB noise","f":14.0,"v":-10.5}
]},
"encoding": {
 "x": {"field": "f", "type": "quantitative", "scale": {"domain": [0, 15], "nice": false, "zero": false}},
 "y": {"field": "v", "type": "quantitative", "scale": {"domain": [-14, 0], "nice": false, "zero": false}},
 "color": {"field": "s", "type": "nominal", "title": null, "scale": {"domain": ["Normal", "with 0dB noise", "with 5dB noise", "with 10dB noise"], "range": ["#000000", "#ff0000", "#0000ff", "#1a7d1a"]}},
 "strokeWidth": {"field": "s", "type": "nominal", "title": null, "scale": {"domain": ["Normal", "with 0dB noise", "with 5dB noise", "with 10dB noise"], "range": [4, 1.7, 1.7, 1.7]}}
},
"layer": [
 {"transform": [{"filter": "datum.s === 'Normal'"}], "mark": {"type": "line"},
  "encoding": {
   "x": {"field": "f", "type": "quantitative", "scale": {"domain": [0, 15], "nice": false, "zero": false},
     "axis": {"orient": "bottom", "values": [0, 2, 4, 6, 8, 10, 12, 14], "labelExpr": "datum.value == 0 ? '0.0' : format(datum.value, '.1f') + 'G'", "title": "Frequency(Hz)", "titleX": 246, "grid": true, "gridColor": "#777777", "gridDash": [1, 2], "gridWidth": 1, "domainColor": "black", "domainWidth": 1.5, "tickColor": "black", "tickWidth": 1.5, "tickSize": 8, "labelFontSize": 18, "labelColor": "black", "labelPadding": 3, "labelFlush": false, "labelOverlap": false, "titleFontSize": 17, "titleFontWeight": "bold", "titleColor": "black", "titlePadding": 15}},
   "y": {"field": "v", "type": "quantitative", "scale": {"domain": [-14, 0], "nice": false, "zero": false},
     "axis": {"orient": "left", "values": [0, -2, -4, -6, -8, -10, -12, -14], "title": "S11(dB)", "titleY": 205, "grid": true, "gridColor": "#777777", "gridDash": [1, 2], "gridWidth": 1, "domainColor": "black", "domainWidth": 1.5, "tickColor": "black", "tickWidth": 1.5, "tickSize": 8, "labelFontSize": 18, "labelColor": "black", "labelPadding": 7, "labelFlush": false, "labelOverlap": false, "titleFontSize": 17, "titleFontWeight": "bold", "titleColor": "black", "titlePadding": 5}}
  }},
 {"transform": [{"filter": "datum.s === 'with 0dB noise'"}], "mark": {"type": "line"},
  "encoding": {"x": {"field": "f", "type": "quantitative", "axis": null}, "y": {"field": "v", "type": "quantitative", "axis": null}}},
 {"transform": [{"filter": "datum.s === 'with 5dB noise'"}], "mark": {"type": "line"},
  "encoding": {"x": {"field": "f", "type": "quantitative", "axis": null}, "y": {"field": "v", "type": "quantitative", "axis": null}}},
 {"transform": [{"filter": "datum.s === 'with 10dB noise'"}], "mark": {"type": "line"},
  "encoding": {"x": {"field": "f", "type": "quantitative", "axis": null}, "y": {"field": "v", "type": "quantitative", "axis": null}}},
 {"transform": [{"filter": "datum.s === 'Normal'"}], "mark": {"type": "line", "strokeOpacity": 0},
  "encoding": {
   "color": {"value": "black"}, "strokeWidth": {"value": 1},
   "x": {"field": "f", "type": "quantitative", "axis": {"orient": "bottom", "values": [1, 3, 5, 7, 9, 11, 13], "labels": false, "domain": false, "grid": false, "title": null, "tickColor": "black", "tickWidth": 1.5, "tickSize": 5}},
   "y": {"field": "v", "type": "quantitative", "axis": {"orient": "left", "values": [-1, -3, -5, -7, -9, -11, -13], "labels": false, "domain": false, "grid": false, "title": null, "tickColor": "black", "tickWidth": 1.5, "tickSize": 5}}
  }}
],
"resolve": {"axis": {"x": "independent", "y": "independent"}}
}
